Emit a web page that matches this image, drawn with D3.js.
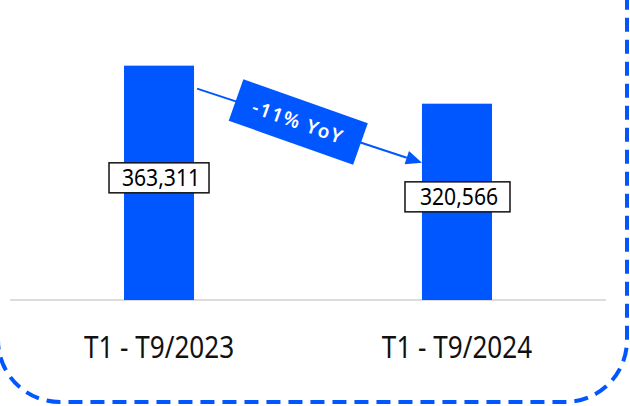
<!DOCTYPE html>
<html><head><meta charset="utf-8">
<script src="https://cdn.jsdelivr.net/npm/d3@7"></script>
<style>html,body{margin:0;padding:0;background:#fff;}svg{display:block;}</style>
</head><body>
<script>
const categories = ["T1 - T9/2023", "T1 - T9/2024"];
const values = [363311, 320566];
const valueLabels = ["363,311", "320,566"];
const changeLabel = "-11% YoY";

const W = 630, H = 406;
const BLUE = "#0057ff";
const svg = d3.select("body").append("svg").attr("width", W).attr("height", H);

// dashed rounded frame (partly off-canvas)
svg.append("rect").attr("x", -2).attr("y", -80).attr("width", 629).attr("height", 482)
  .attr("rx", 62).attr("ry", 62).attr("fill", "none")
  .attr("stroke", BLUE).attr("stroke-width", 4).attr("stroke-dasharray", "14 8");

const x = d3.scaleBand().domain(categories).range([10, 606]).paddingInner(0.765).paddingOuter(0.3826);
const y = d3.scaleLinear().domain([100000, 400000]).range([300, 33]);
const bw = x.bandwidth();

// baseline
svg.append("line").attr("x1", 10).attr("x2", 606).attr("y1", y(100000)).attr("y2", y(100000))
  .attr("stroke", "#dcdcdc").attr("stroke-width", 2);

// bars
svg.selectAll("rect.bar").data(values).join("rect").attr("class", "bar")
  .attr("x", (d, i) => x(categories[i])).attr("width", bw)
  .attr("y", d => y(d)).attr("height", d => y(100000) - y(d)).attr("fill", BLUE);

// category labels
svg.selectAll("text.cat").data(categories).join("text").attr("class", "cat")
  .attr("transform", d => `translate(${x(d) + bw / 2},358) scale(0.87,1)`)
  .attr("text-anchor", "middle")
  .attr("font-family", "Noto Sans").attr("font-size", 30).attr("fill", "#111")
  .text(d => d);

// value label boxes
const lg = svg.selectAll("g.vl").data(values).join("g").attr("class", "vl")
  .attr("transform", (d, i) => `translate(${x(categories[i]) + bw / 2},${(y(d) + y(100000)) / 2 - 5})`);
lg.append("rect").attr("x", (d, i) => i ? -52 : -50).attr("width", (d, i) => i ? 105 : 100)
  .attr("y", -15).attr("height", 30).attr("fill", "#fff").attr("stroke", "#111").attr("stroke-width", 1.5);
lg.append("text").attr("text-anchor", "middle").attr("dy", "0.36em")
  .attr("transform", "translate(2,0) scale(0.88,1)")
  .attr("font-family", "Noto Sans").attr("font-size", 24).attr("fill", "#000")
  .text((d, i) => valueLabels[i]);

// arrow
const x0 = x(categories[0]) + bw + 3, y0a = y(values[0]) + 23;
const x1 = x(categories[1]), y1a = y(values[1]) + 59;
const ang = Math.atan2(y1a - y0a, x1 - x0);
const headL = 16, headW = 7;
const bx = x1 - headL * Math.cos(ang), by = y1a - headL * Math.sin(ang);
svg.append("line").attr("x1", x0).attr("y1", y0a).attr("x2", bx).attr("y2", by)
  .attr("stroke", BLUE).attr("stroke-width", 2);
svg.append("polygon").attr("fill", BLUE).attr("points", [
  [x1, y1a],
  [bx + headW * Math.sin(ang), by - headW * Math.cos(ang)],
  [bx - headW * Math.sin(ang), by + headW * Math.cos(ang)]
].map(p => p.join(",")).join(" "));

// change badge
const cx = x0 + (x1 - x0) * 0.45, cy = y0a + (y1a - y0a) * 0.45;
const badge = svg.append("g").attr("transform", `translate(${cx},${cy}) rotate(19.5)`);
badge.append("rect").attr("x", -66).attr("y", -22).attr("width", 132).attr("height", 44).attr("fill", BLUE);
badge.append("text").attr("text-anchor", "middle").attr("dy", "0.36em")
  .attr("font-family", "Noto Sans").attr("font-weight", 600).attr("font-size", 19)
  .attr("letter-spacing", 1.6).attr("fill", "#fff").text(changeLabel);
</script>
</body></html>
